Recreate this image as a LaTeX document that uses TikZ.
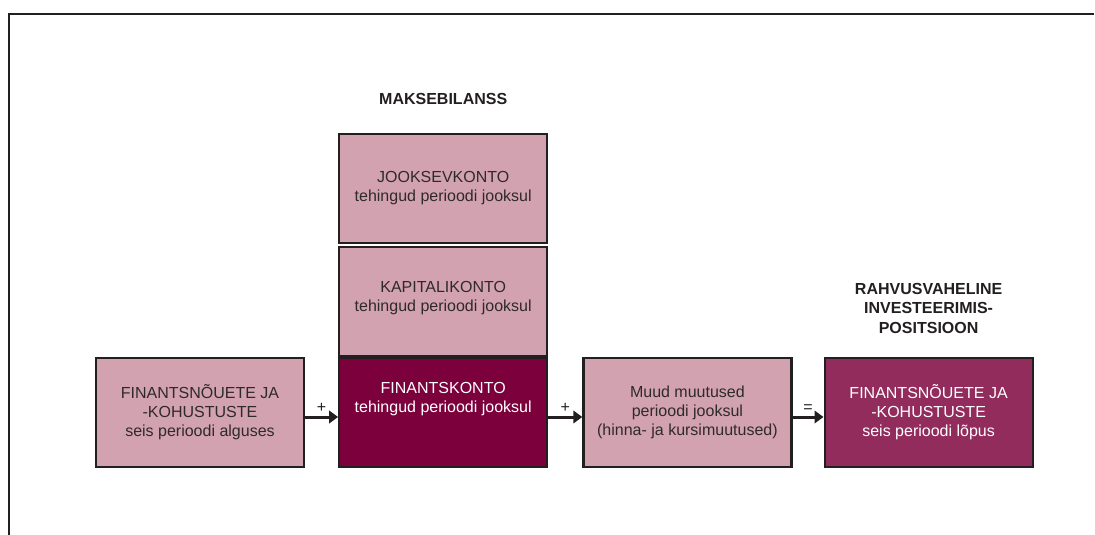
\documentclass[tikz,border=0pt]{standalone}
\usepackage{fontspec}
\setmainfont{Liberation Sans}
\usetikzlibrary{positioning,arrows.meta}
\definecolor{rosa}{HTML}{D3A2B1}
\definecolor{bordo}{HTML}{7C003C}
\definecolor{vein}{HTML}{922C5C}
\definecolor{joon}{HTML}{231F20}
\definecolor{tekst}{HTML}{2E2A2B}

\begin{document}
\begin{tikzpicture}[x=1pt, y=-1pt,
    konto/.style={draw=joon, line width=2.2pt, fill=rosa, minimum width=208pt, minimum height=109pt,
      inner sep=0pt, align=center, text=tekst, font=\fontsize{16}{19}\selectfont},
    sisu/.style={align=center, text=white, font=\fontsize{16}{19}\selectfont},
    pealkiri/.style={align=center, text=joon, font=\fontsize{16}{19.5}\selectfont\bfseries},
    nool/.style={draw=joon, line width=3pt, -{Triangle[length=9pt,width=12.5pt]}},
    margis/.style={text=joon, inner sep=3.5pt, font=\fontsize{16}{16}\selectfont}]
    \useasboundingbox (0,0) rectangle (1095,535);

    % Frame
    \draw[joon, line width=2pt] (9,535) -- (9,14) -- (1094,14);

    % Stock at the beginning
    \node[konto] (algus) at (200,412.5) {FINANTSNÕUETE JA\\-KOHUSTUSTE\\seis perioodi alguses};

    % Balance of payments column
    \node[konto, fill=bordo, label={[sisu, yshift=13pt]center:{FINANTSKONTO\\tehingud perioodi jooksul}}]
      (fin) [right=33pt of algus] {};
    \node[konto, label={[sisu, text=tekst, yshift=3pt]center:{KAPITALIKONTO\\tehingud perioodi jooksul}}]
      (kap) [above=0pt of fin] {};
    \node[konto] (jook) [above=2pt of kap] {JOOKSEVKONTO\\tehingud perioodi jooksul};

    % Other changes and stock at the end
    \node[konto] (muud) [right=34pt of fin] {Muud muutused\\perioodi jooksul\\(hinna- ja kursimuutused)};
    \node[konto, fill=vein, text=white] (lopp) [right=31pt of muud] {FINANTSNÕUETE JA\\-KOHUSTUSTE\\seis perioodi lõpus};

    % Headings
    \node[pealkiri] (mb) [above=24pt of jook] {MAKSEBILANSS};
    \node[pealkiri] (rip) [above=20pt of lopp] {RAHVUSVAHELINE\\INVESTEERIMIS-\\POSITSIOON};

    % Arrows
    \draw[nool] ([yshift=-4.5pt]algus.east) -- node[margis, above] {+} ([yshift=-4.5pt]fin.west);
    \draw[nool] ([yshift=-4.5pt]fin.east) -- node[margis, above] {+} ([yshift=-4.5pt]muud.west);
    \draw[nool] ([yshift=-4.5pt]muud.east) -- node[margis, above] {=} ([yshift=-4.5pt]lopp.west);

\end{tikzpicture}
\end{document}
